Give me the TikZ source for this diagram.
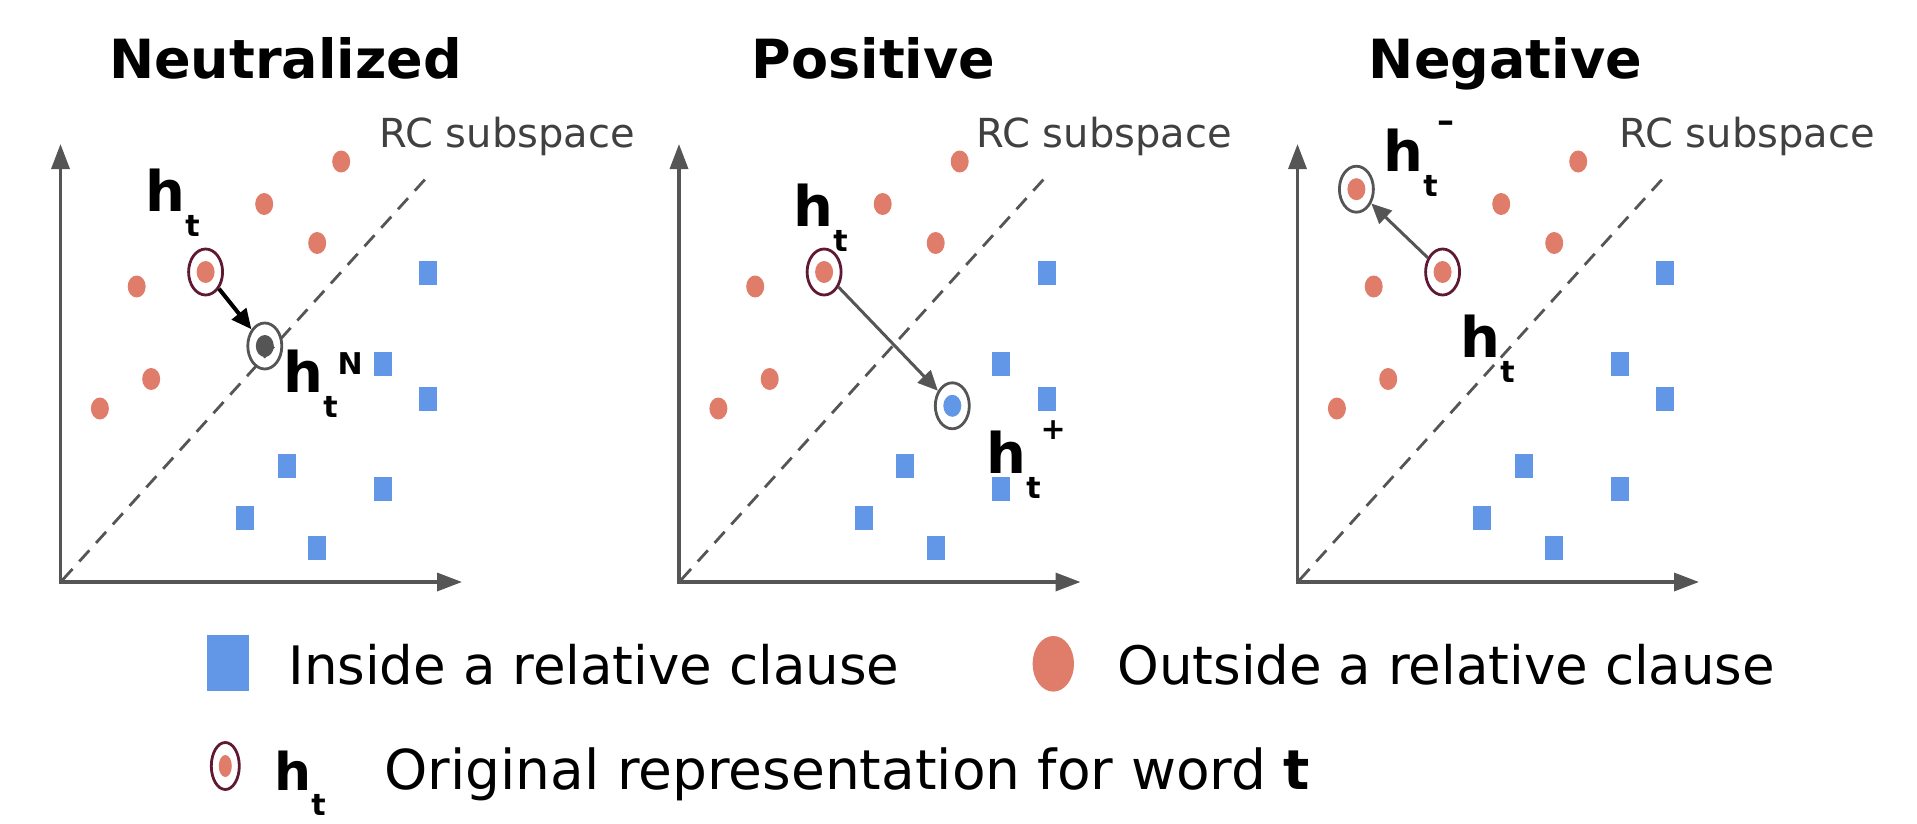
\documentclass[tikz,border=0pt]{standalone}
\usepackage{fontspec}
\setmainfont{DejaVu Sans}
\usetikzlibrary{arrows.meta,shapes.geometric}

\definecolor{dotred}{RGB}{224,124,106}
\definecolor{rcblue}{RGB}{98,150,230}
\definecolor{axisgray}{RGB}{85,85,85}
\definecolor{ringred}{RGB}{95,25,50}
\definecolor{textgray}{RGB}{64,64,64}

\tikzset{
  title/.style={anchor=base, inner sep=0, font=\fontsize{27}{27}\selectfont\bfseries},
  rclabel/.style={anchor=base west, inner sep=0, text=textgray, font=\fontsize{20}{20}\selectfont},
  hlabel/.style={anchor=base west, inner sep=0, font=\fontsize{28}{28}\selectfont},
  legtext/.style={anchor=base west, inner sep=0, font=\fontsize{26.5}{26.5}\selectfont},
  reddot/.style={ellipse, fill=dotred, inner sep=0, minimum width=9pt, minimum height=11pt},
  graydot/.style={reddot, fill=axisgray},
  bluedot/.style={reddot, fill=rcblue},
  bluesq/.style={rectangle, fill=rcblue, inner sep=0, minimum width=9pt, minimum height=12pt},
  ring/.style={ellipse, draw=ringred, line width=1.4pt, inner sep=0, minimum width=17pt, minimum height=23pt},
  newring/.style={ring, draw=axisgray},
  axis/.style={draw=axisgray, line width=1.7pt, line join=miter,
    {Triangle[length=12.5pt,width=9pt]}-{Triangle[length=12.5pt,width=9pt]}},
  subspace/.style={draw=axisgray, line width=1.4pt, dash pattern=on 7.5pt off 5pt},
  move/.style={draw=axisgray, line width=1.5pt, -{Triangle[length=10pt,width=9pt]}}
}

% h with a low t and an optional raised mark
\newcommand{\hvec}[2][9pt]{\textbf{h}\raisebox{-12.5pt}{\fontsize{15}{15}\selectfont\textbf{t}}\raisebox{#1}{\fontsize{15}{15}\selectfont\textbf{#2}}}

\begin{document}
\begin{tikzpicture}[x=0.5pt,y=-0.5pt]
    \useasboundingbox (0,0) rectangle (1917,824);
    % Titles
    \node[title] (tneu) at (285.5,79) {Neutralized};
    \node[title] (tpos) at (873.5,79) {Positive};
    \node[title] (tneg) at (1505.5,79) {Negative};
    % Axes, RC subspace and tokens (same in all three panels)
    \foreach \p/\ox/\rx in {a/60.5/379, b/679/976, c/1297.5/1619}{
        \draw[axis] (\ox,144) -- (\ox,582) -- (\ox+401.5,582);
        \draw[subspace] (\ox+2,580) -- (\ox+368.5,175);
        \node[rclabel] (\p rc) at (\rx,148) {RC subspace};
        \node[reddot] (\p r1) at (\ox+280.7,161.5) {};
        \node[reddot] (\p r2) at (\ox+203.7,204) {};
        \node[reddot] (\p r3) at (\ox+256.7,243) {};
        \node[reddot] (\p r4) at (\ox+76.2,286.5) {};
        \node[reddot] (\p r5) at (\ox+145.1,272) {};
        \node[reddot] (\p r6) at (\ox+90.7,379) {};
        \node[reddot] (\p r7) at (\ox+39.4,408.5) {};
        \node[bluesq] (\p b1) at (\ox+367.7,273) {};
        \node[bluesq] (\p b2) at (\ox+322.4,363.5) {};
        \node[bluesq] (\p b3) at (\ox+367.7,399) {};
        \node[bluesq] (\p b4) at (\ox+226.3,466) {};
        \node[bluesq] (\p b5) at (\ox+322.4,488.5) {};
        \node[bluesq] (\p b6) at (\ox+184.7,518) {};
        \node[bluesq] (\p b7) at (\ox+256.7,548) {};
        \node[ring] (\p o) at (\ox+145.1,272) {};
    }
    % Neutralized
    \node[graydot] (andot) at (264.8,346) {};
    \node[newring] (an) at (264.8,346) {};
    \draw[move, draw=black, line width=2pt] (ao) -- (an);
    \node[hlabel] (aht) at (145,211.5) {\hvec{}};
    \node[hlabel] (ahn) at (283,392) {\hvec{N}};
    % Positive
    \node[bluedot] (bpdot) at (952.3,405.8) {};
    \node[newring] (bp) at (952.3,405.8) {};
    \draw[move] (bo) -- (bp);
    \node[hlabel] (bht) at (793,227) {\hvec{}};
    \node[hlabel] (bhp) at (986,473) {\hvec[17pt]{+}};
    % Negative
    \node[reddot] (cmdot) at (1356.4,189.2) {};
    \node[newring] (cm) at (1356.4,189.2) {};
    \draw[move] (co) -- (cm);
    \node[hlabel] (chm) at (1383,171) {\hvec[19.5pt]{\fontsize{17}{17}\selectfont\textendash}};
    \node[hlabel] (cht) at (1460,357.7) {\hvec{}};
    % Legend
    \node[bluesq, minimum width=21pt, minimum height=28pt] (lin) at (228.3,662.8) {};
    \node[legtext] (lintext) at (288,684) {Inside a relative clause};
    \node[reddot, minimum width=20.7pt, minimum height=27.8pt] (lout) at (1053.3,663.8) {};
    \node[legtext] (louttext) at (1117,684) {Outside a relative clause};
    \node[reddot, minimum width=6.5pt, minimum height=11pt] (lorgdot) at (225.3,766) {};
    \node[ring, minimum width=14pt, minimum height=23.5pt] (lorg) at (225.3,766) {};
    \node[hlabel, font=\fontsize{26}{26}\selectfont] (lht) at (274,790) {\hvec{}};
    \node[legtext, font=\fontsize{27.5}{27.5}\selectfont] (lorgtext) at (384,789) {Original representation for word \textbf{t}};
\end{tikzpicture}
\end{document}
